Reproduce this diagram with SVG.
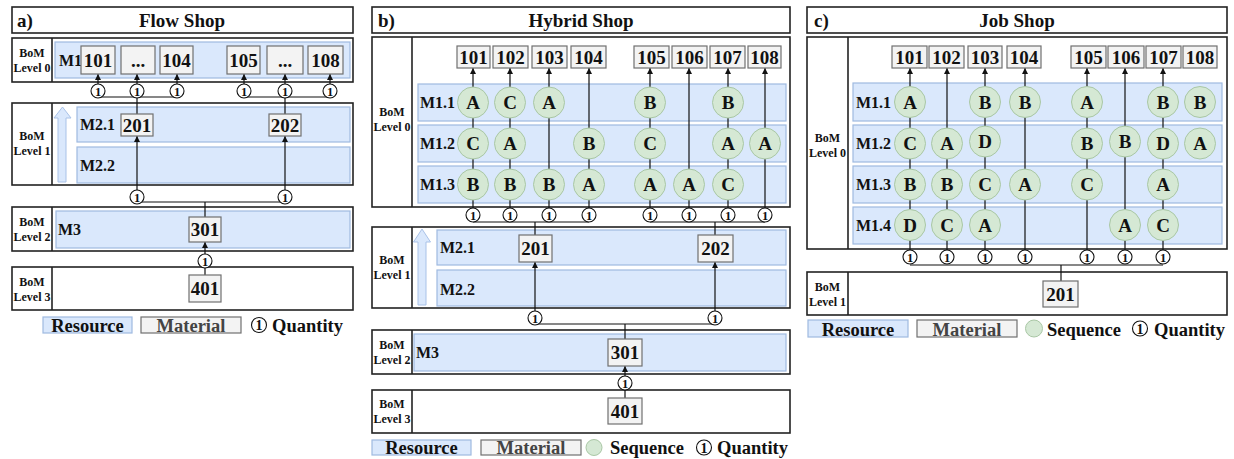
<svg xmlns="http://www.w3.org/2000/svg" width="1234" height="459" viewBox="0 0 1234 459">
<defs>
<style>
text{font-family:'Liberation Serif','Times New Roman',serif;font-weight:bold;fill:#111}
.frame{fill:#fff;stroke:#222;stroke-width:1.6}
.div{stroke:#222;stroke-width:1.6}
.res{fill:#dae8fc;stroke:#9fb9e0;stroke-width:1.2}
.mat{fill:#f3f3f3;stroke:#707070;stroke-width:1.2}
.seq{fill:#d5e8d4;stroke:#a9c7a5;stroke-width:1}
.qty{fill:#fff;stroke:#111;stroke-width:1.1}
.bar{fill:#dae8fc;stroke:#a9c2e8;stroke-width:1}
.title{font-size:19px}
.mt{font-size:19px;text-anchor:middle}
.lvl{font-size:12px;text-anchor:middle}
.rl{font-size:16px}
.st{font-size:19px;text-anchor:middle}
.qt{font-size:12.5px;text-anchor:middle}
.leg{font-size:18.5px}
.edge{stroke:#111;stroke-width:1.2;fill:none}
.arr{stroke:#111;stroke-width:1.2;fill:none;marker-end:url(#ah)}
</style>
<marker id="ah" markerUnits="userSpaceOnUse" markerWidth="7" markerHeight="7" refX="6" refY="3" orient="auto"><path d="M0,0 L6,3 L0,6 z" fill="#111"/></marker>
</defs>
<rect width="1234" height="459" fill="#fff"/>

<!-- ================= Panel A: Flow Shop ================= -->
<g id="a-title"><rect class="frame" x="12" y="7" width="341" height="26"/><text class="title" x="17" y="26.5">a)</text><text class="title" x="182" y="26.5" text-anchor="middle">Flow Shop</text></g>
<g id="a-level0"><rect class="frame" x="12" y="38" width="341" height="44"/><line class="div" x1="52" y1="38" x2="52" y2="82"/><text class="lvl" x="32" y="57">BoM</text><text class="lvl" x="32" y="72">Level 0</text></g>
<g id="a-level1"><rect class="frame" x="12" y="103" width="341" height="82"/><line class="div" x1="52" y1="103" x2="52" y2="185"/><text class="lvl" x="32" y="140">BoM</text><text class="lvl" x="32" y="155">Level 1</text><path class="bar" d="M62.5,107 L71,118 L66,118 L66,182 L58,182 L58,118 L54,118 Z"/></g>
<g id="a-level2"><rect class="frame" x="12" y="207" width="341" height="44"/><line class="div" x1="52" y1="207" x2="52" y2="251"/><text class="lvl" x="32" y="226">BoM</text><text class="lvl" x="32" y="241">Level 2</text></g>
<g id="a-level3"><rect class="frame" x="12" y="267" width="341" height="43"/><line class="div" x1="52" y1="267" x2="52" y2="310"/><text class="lvl" x="32" y="286">BoM</text><text class="lvl" x="32" y="301">Level 3</text></g>
<g id="a-M1"><rect class="res" x="55" y="42" width="295" height="36"/><text class="rl" x="59" y="66">M1</text></g>
<g id="a-M2.1"><rect class="res" x="77" y="107" width="273" height="35"/><text class="rl" x="80" y="130">M2.1</text></g>
<g id="a-M2.2"><rect class="res" x="77" y="147" width="273" height="36"/><text class="rl" x="80" y="171">M2.2</text></g>
<g id="a-M3"><rect class="res" x="56" y="211" width="294" height="37"/><text class="rl" x="58" y="235">M3</text></g>

<g id="a-connectors">
<line class="arr" x1="98" y1="84" x2="98" y2="74"/>
<line class="arr" x1="137" y1="84" x2="137" y2="74"/>
<line class="arr" x1="177" y1="84" x2="177" y2="74"/>
<line class="arr" x1="244" y1="84" x2="244" y2="74"/>
<line class="arr" x1="285" y1="84" x2="285" y2="74"/>
<line class="arr" x1="330" y1="84" x2="330" y2="74"/>
<line class="edge" x1="98" y1="97" x2="177" y2="97"/>
<line class="edge" x1="244" y1="97" x2="330" y2="97"/>
<line class="edge" x1="137" y1="97" x2="137" y2="114"/>
<line class="edge" x1="285" y1="97" x2="285" y2="114"/>
<line class="arr" x1="137" y1="190" x2="137" y2="136"/>
<line class="arr" x1="285" y1="190" x2="285" y2="136"/>
<line class="edge" x1="137" y1="202" x2="285" y2="202"/>
<line class="edge" x1="205" y1="202" x2="205" y2="217"/>
<line class="arr" x1="205" y1="254" x2="205" y2="242"/>
<line class="edge" x1="205" y1="268" x2="205" y2="275"/>
</g>

<g id="a-m101"><rect class="mat" x="81" y="46" width="34" height="28"/><text class="mt" x="98" y="66.5">101</text></g>
<g id="a-mdots1"><rect class="mat" x="121" y="46" width="34" height="28"/><text class="mt" x="138" y="66.5">...</text></g>
<g id="a-m104"><rect class="mat" x="160" y="46" width="33" height="28"/><text class="mt" x="176.5" y="66.5">104</text></g>
<g id="a-m105"><rect class="mat" x="227" y="46" width="33" height="28"/><text class="mt" x="243.5" y="66.5">105</text></g>
<g id="a-mdots2"><rect class="mat" x="267" y="46" width="36" height="28"/><text class="mt" x="285" y="66.5">...</text></g>
<g id="a-m108"><rect class="mat" x="308" y="46" width="35" height="28"/><text class="mt" x="325.5" y="66.5">108</text></g>
<g id="a-m201"><rect class="mat" x="121" y="114" width="32" height="22"/><text class="mt" x="137" y="131.5">201</text></g>
<g id="a-m202"><rect class="mat" x="269" y="114" width="32" height="22"/><text class="mt" x="285" y="131.5">202</text></g>
<g id="a-m301"><rect class="mat" x="189" y="217" width="32" height="25"/><text class="mt" x="205" y="236">301</text></g>
<g id="a-m401"><rect class="mat" x="189" y="275" width="32" height="27"/><text class="mt" x="205" y="295">401</text></g>

<g id="a-q1"><circle class="qty" cx="98" cy="91" r="7"/><text class="qt" x="98" y="95.5">1</text></g>
<g id="a-q2"><circle class="qty" cx="137" cy="91" r="7"/><text class="qt" x="137" y="95.5">1</text></g>
<g id="a-q3"><circle class="qty" cx="177" cy="91" r="7"/><text class="qt" x="177" y="95.5">1</text></g>
<g id="a-q4"><circle class="qty" cx="244" cy="91" r="7"/><text class="qt" x="244" y="95.5">1</text></g>
<g id="a-q5"><circle class="qty" cx="285" cy="91" r="7"/><text class="qt" x="285" y="95.5">1</text></g>
<g id="a-q6"><circle class="qty" cx="330" cy="91" r="7"/><text class="qt" x="330" y="95.5">1</text></g>
<g id="a-q7"><circle class="qty" cx="137" cy="197" r="7"/><text class="qt" x="137" y="201.5">1</text></g>
<g id="a-q8"><circle class="qty" cx="285" cy="197" r="7"/><text class="qt" x="285" y="201.5">1</text></g>
<g id="a-q9"><circle class="qty" cx="205" cy="261" r="7"/><text class="qt" x="205" y="265.5">1</text></g>

<g id="a-legend">
<rect class="res" x="43" y="317" width="89" height="16"/><text class="leg" x="87.5" y="332" text-anchor="middle">Resource</text>
<rect class="mat" x="141" y="317" width="100" height="16"/><text class="leg" x="191" y="332" text-anchor="middle" style="fill:#444">Material</text>
<circle class="qty" cx="259" cy="325" r="7.5"/><text x="259" y="330" style="font-size:14px;text-anchor:middle">1</text>
<text class="leg" x="272" y="332">Quantity</text>
</g>

<!-- ================= Panel B: Hybrid Shop ================= -->
<g id="b-title"><rect class="frame" x="372" y="7" width="418" height="26"/><text class="title" x="378" y="26.5">b)</text><text class="title" x="581" y="26.5" text-anchor="middle">Hybrid Shop</text></g>
<g id="b-level0"><rect class="frame" x="372" y="37" width="418" height="170"/><line class="div" x1="412" y1="37" x2="412" y2="207"/><text class="lvl" x="392" y="116">BoM</text><text class="lvl" x="392" y="131">Level 0</text></g>
<g id="b-level1"><rect class="frame" x="372" y="227" width="418" height="81"/><line class="div" x1="412" y1="227" x2="412" y2="308"/><text class="lvl" x="392" y="264">BoM</text><text class="lvl" x="392" y="279">Level 1</text><path class="bar" d="M422,229 L430.5,242 L426,242 L426,305 L418,305 L418,242 L413.5,242 Z"/></g>
<g id="b-level2"><rect class="frame" x="372" y="330" width="418" height="44"/><line class="div" x1="412" y1="330" x2="412" y2="374"/><text class="lvl" x="392" y="349">BoM</text><text class="lvl" x="392" y="364">Level 2</text></g>
<g id="b-level3"><rect class="frame" x="372" y="390" width="418" height="43"/><line class="div" x1="412" y1="390" x2="412" y2="433"/><text class="lvl" x="392" y="408">BoM</text><text class="lvl" x="392" y="423">Level 3</text></g>
<g id="b-M1.1"><rect class="res" x="418" y="84" width="368" height="37"/><text class="rl" x="420" y="108">M1.1</text></g>
<g id="b-M1.2"><rect class="res" x="418" y="125" width="368" height="37"/><text class="rl" x="420" y="149">M1.2</text></g>
<g id="b-M1.3"><rect class="res" x="418" y="166" width="368" height="37"/><text class="rl" x="420" y="190">M1.3</text></g>
<g id="b-M2.1"><rect class="res" x="437" y="230" width="349" height="35"/><text class="rl" x="440" y="253">M2.1</text></g>
<g id="b-M2.2"><rect class="res" x="437" y="270" width="349" height="36"/><text class="rl" x="440" y="295">M2.2</text></g>
<g id="b-M3"><rect class="res" x="414" y="334" width="372" height="37"/><text class="rl" x="416" y="358">M3</text></g>

<g id="b-connectors">
<line class="arr" x1="473" y1="208" x2="473" y2="68"/>
<line class="arr" x1="510" y1="208" x2="510" y2="68"/>
<line class="arr" x1="549" y1="208" x2="549" y2="68"/>
<line class="arr" x1="589" y1="208" x2="589" y2="68"/>
<line class="arr" x1="650" y1="208" x2="650" y2="68"/>
<line class="arr" x1="689" y1="208" x2="689" y2="68"/>
<line class="arr" x1="728" y1="208" x2="728" y2="68"/>
<line class="arr" x1="765" y1="208" x2="765" y2="68"/>
<line class="edge" x1="473" y1="222" x2="589" y2="222"/>
<line class="edge" x1="650" y1="222" x2="765" y2="222"/>
<line class="edge" x1="535" y1="222" x2="535" y2="235"/>
<line class="edge" x1="715" y1="222" x2="715" y2="235"/>
<line class="arr" x1="535" y1="311" x2="535" y2="262"/>
<line class="arr" x1="715" y1="311" x2="715" y2="262"/>
<line class="edge" x1="535" y1="324" x2="715" y2="324"/>
<line class="edge" x1="625" y1="324" x2="625" y2="339"/>
<line class="arr" x1="625" y1="376" x2="625" y2="366"/>
<line class="edge" x1="625" y1="390" x2="625" y2="398"/>
</g>

<g id="b-s11"><circle class="seq" cx="473" cy="102.5" r="15.5"/><text class="st" x="473" y="109">A</text></g>
<g id="b-s12"><circle class="seq" cx="510" cy="102.5" r="15.5"/><text class="st" x="510" y="109">C</text></g>
<g id="b-s13"><circle class="seq" cx="549" cy="102.5" r="15.5"/><text class="st" x="549" y="109">A</text></g>
<g id="b-s15"><circle class="seq" cx="650" cy="102.5" r="15.5"/><text class="st" x="650" y="109">B</text></g>
<g id="b-s17"><circle class="seq" cx="728" cy="102.5" r="15.5"/><text class="st" x="728" y="109">B</text></g>
<g id="b-s21"><circle class="seq" cx="473" cy="143.5" r="15.5"/><text class="st" x="473" y="150">C</text></g>
<g id="b-s22"><circle class="seq" cx="510" cy="143.5" r="15.5"/><text class="st" x="510" y="150">A</text></g>
<g id="b-s24"><circle class="seq" cx="589" cy="143.5" r="15.5"/><text class="st" x="589" y="150">B</text></g>
<g id="b-s25"><circle class="seq" cx="650" cy="143.5" r="15.5"/><text class="st" x="650" y="150">C</text></g>
<g id="b-s27"><circle class="seq" cx="728" cy="143.5" r="15.5"/><text class="st" x="728" y="150">A</text></g>
<g id="b-s28"><circle class="seq" cx="765" cy="143.5" r="15.5"/><text class="st" x="765" y="150">A</text></g>
<g id="b-s31"><circle class="seq" cx="473" cy="184.5" r="15.5"/><text class="st" x="473" y="191">B</text></g>
<g id="b-s32"><circle class="seq" cx="510" cy="184.5" r="15.5"/><text class="st" x="510" y="191">B</text></g>
<g id="b-s33"><circle class="seq" cx="549" cy="184.5" r="15.5"/><text class="st" x="549" y="191">B</text></g>
<g id="b-s34"><circle class="seq" cx="589" cy="184.5" r="15.5"/><text class="st" x="589" y="191">A</text></g>
<g id="b-s35"><circle class="seq" cx="650" cy="184.5" r="15.5"/><text class="st" x="650" y="191">A</text></g>
<g id="b-s36"><circle class="seq" cx="689" cy="184.5" r="15.5"/><text class="st" x="689" y="191">A</text></g>
<g id="b-s37"><circle class="seq" cx="728" cy="184.5" r="15.5"/><text class="st" x="728" y="191">C</text></g>

<g id="b-m101"><rect class="mat" x="457" y="46" width="33" height="22"/><text class="mt" x="473.5" y="63.5">101</text></g>
<g id="b-m102"><rect class="mat" x="493" y="46" width="35" height="22"/><text class="mt" x="510.5" y="63.5">102</text></g>
<g id="b-m103"><rect class="mat" x="532" y="46" width="35" height="22"/><text class="mt" x="549.5" y="63.5">103</text></g>
<g id="b-m104"><rect class="mat" x="571" y="46" width="35" height="22"/><text class="mt" x="588.5" y="63.5">104</text></g>
<g id="b-m105"><rect class="mat" x="634" y="46" width="35" height="22"/><text class="mt" x="651.5" y="63.5">105</text></g>
<g id="b-m106"><rect class="mat" x="672" y="46" width="35" height="22"/><text class="mt" x="689.5" y="63.5">106</text></g>
<g id="b-m107"><rect class="mat" x="710" y="46" width="35" height="22"/><text class="mt" x="727.5" y="63.5">107</text></g>
<g id="b-m108"><rect class="mat" x="748" y="46" width="33" height="22"/><text class="mt" x="764.5" y="63.5">108</text></g>
<g id="b-m201"><rect class="mat" x="519" y="235" width="33" height="27"/><text class="mt" x="535.5" y="255">201</text></g>
<g id="b-m202"><rect class="mat" x="698" y="235" width="35" height="27"/><text class="mt" x="715.5" y="255">202</text></g>
<g id="b-m301"><rect class="mat" x="608" y="339" width="34" height="27"/><text class="mt" x="625" y="359">301</text></g>
<g id="b-m401"><rect class="mat" x="608" y="398" width="34" height="26"/><text class="mt" x="625" y="417.5">401</text></g>

<g id="b-q1"><circle class="qty" cx="473" cy="215" r="7"/><text class="qt" x="473" y="219.5">1</text></g>
<g id="b-q2"><circle class="qty" cx="510" cy="215" r="7"/><text class="qt" x="510" y="219.5">1</text></g>
<g id="b-q3"><circle class="qty" cx="549" cy="215" r="7"/><text class="qt" x="549" y="219.5">1</text></g>
<g id="b-q4"><circle class="qty" cx="589" cy="215" r="7"/><text class="qt" x="589" y="219.5">1</text></g>
<g id="b-q5"><circle class="qty" cx="650" cy="215" r="7"/><text class="qt" x="650" y="219.5">1</text></g>
<g id="b-q6"><circle class="qty" cx="689" cy="215" r="7"/><text class="qt" x="689" y="219.5">1</text></g>
<g id="b-q7"><circle class="qty" cx="728" cy="215" r="7"/><text class="qt" x="728" y="219.5">1</text></g>
<g id="b-q8"><circle class="qty" cx="765" cy="215" r="7"/><text class="qt" x="765" y="219.5">1</text></g>
<g id="b-q9"><circle class="qty" cx="535" cy="318" r="7"/><text class="qt" x="535" y="322.5">1</text></g>
<g id="b-q10"><circle class="qty" cx="715" cy="318" r="7"/><text class="qt" x="715" y="322.5">1</text></g>
<g id="b-q11"><circle class="qty" cx="625" cy="383" r="7"/><text class="qt" x="625" y="387.5">1</text></g>

<g id="b-legend">
<rect class="res" x="372" y="440" width="99" height="15"/><text class="leg" x="421.5" y="454" text-anchor="middle">Resource</text>
<rect class="mat" x="481" y="440" width="100" height="15"/><text class="leg" x="531" y="454" text-anchor="middle" style="fill:#444">Material</text>
<circle class="seq" cx="594" cy="447.5" r="8"/>
<text class="leg" x="610" y="454">Sequence</text>
<circle class="qty" cx="704" cy="447.5" r="7.5"/><text x="704" y="452.5" style="font-size:14px;text-anchor:middle">1</text>
<text class="leg" x="717" y="454">Quantity</text>
</g>

<!-- ================= Panel C: Job Shop ================= -->
<g id="c-title"><rect class="frame" x="807" y="7" width="420" height="26"/><text class="title" x="814" y="26.5">c)</text><text class="title" x="1017" y="26.5" text-anchor="middle">Job Shop</text></g>
<g id="c-level0"><rect class="frame" x="807" y="37" width="420" height="212"/><line class="div" x1="848" y1="37" x2="848" y2="249"/><text class="lvl" x="827.5" y="142">BoM</text><text class="lvl" x="827.5" y="157">Level 0</text></g>
<g id="c-level1"><rect class="frame" x="807" y="272" width="420" height="43"/><line class="div" x1="848" y1="272" x2="848" y2="315"/><text class="lvl" x="827.5" y="291">BoM</text><text class="lvl" x="827.5" y="306">Level 1</text></g>
<g id="c-M1.1"><rect class="res" x="853" y="83" width="369" height="38"/><text class="rl" x="856" y="108">M1.1</text></g>
<g id="c-M1.2"><rect class="res" x="853" y="125" width="369" height="37"/><text class="rl" x="856" y="149">M1.2</text></g>
<g id="c-M1.3"><rect class="res" x="853" y="166" width="369" height="37"/><text class="rl" x="856" y="190">M1.3</text></g>
<g id="c-M1.4"><rect class="res" x="853" y="207" width="369" height="37"/><text class="rl" x="856" y="231">M1.4</text></g>

<g id="c-connectors">
<line class="arr" x1="910" y1="250" x2="910" y2="68"/>
<line class="arr" x1="947" y1="250" x2="947" y2="68"/>
<line class="arr" x1="985" y1="250" x2="985" y2="68"/>
<line class="arr" x1="1025" y1="250" x2="1025" y2="68"/>
<line class="arr" x1="1087" y1="250" x2="1087" y2="68"/>
<line class="arr" x1="1125" y1="250" x2="1125" y2="68"/>
<line class="arr" x1="1163" y1="250" x2="1163" y2="68"/>
<line class="edge" x1="910" y1="265" x2="1163" y2="265"/>
<line class="edge" x1="1061" y1="265" x2="1061" y2="281"/>
</g>

<g id="c-s11"><circle class="seq" cx="910" cy="102" r="15.5"/><text class="st" x="910" y="108.5">A</text></g>
<g id="c-s13"><circle class="seq" cx="985" cy="102" r="15.5"/><text class="st" x="985" y="108.5">B</text></g>
<g id="c-s14"><circle class="seq" cx="1025" cy="102" r="15.5"/><text class="st" x="1025" y="108.5">B</text></g>
<g id="c-s15"><circle class="seq" cx="1087" cy="102" r="15.5"/><text class="st" x="1087" y="108.5">A</text></g>
<g id="c-s17"><circle class="seq" cx="1163" cy="102" r="15.5"/><text class="st" x="1163" y="108.5">B</text></g>
<g id="c-s18"><circle class="seq" cx="1200" cy="102" r="15.5"/><text class="st" x="1200" y="108.5">B</text></g>
<g id="c-s21"><circle class="seq" cx="910" cy="143.5" r="15.5"/><text class="st" x="910" y="150">C</text></g>
<g id="c-s22"><circle class="seq" cx="947" cy="143.5" r="15.5"/><text class="st" x="947" y="150">A</text></g>
<g id="c-s23"><circle class="seq" cx="985" cy="141.5" r="15.5"/><text class="st" x="985" y="148">D</text></g>
<g id="c-s25"><circle class="seq" cx="1087" cy="143.5" r="15.5"/><text class="st" x="1087" y="150">B</text></g>
<g id="c-s26"><circle class="seq" cx="1125" cy="141.5" r="15.5"/><text class="st" x="1125" y="148">B</text></g>
<g id="c-s27"><circle class="seq" cx="1163" cy="143.5" r="15.5"/><text class="st" x="1163" y="150">D</text></g>
<g id="c-s28"><circle class="seq" cx="1200" cy="143.5" r="15.5"/><text class="st" x="1200" y="150">A</text></g>
<g id="c-s31"><circle class="seq" cx="910" cy="184.5" r="15.5"/><text class="st" x="910" y="191">B</text></g>
<g id="c-s32"><circle class="seq" cx="947" cy="184.5" r="15.5"/><text class="st" x="947" y="191">B</text></g>
<g id="c-s33"><circle class="seq" cx="985" cy="184.5" r="15.5"/><text class="st" x="985" y="191">C</text></g>
<g id="c-s34"><circle class="seq" cx="1025" cy="184.5" r="15.5"/><text class="st" x="1025" y="191">A</text></g>
<g id="c-s35"><circle class="seq" cx="1087" cy="184.5" r="15.5"/><text class="st" x="1087" y="191">C</text></g>
<g id="c-s37"><circle class="seq" cx="1163" cy="184.5" r="15.5"/><text class="st" x="1163" y="191">A</text></g>
<g id="c-s41"><circle class="seq" cx="910" cy="225" r="15.5"/><text class="st" x="910" y="231.5">D</text></g>
<g id="c-s42"><circle class="seq" cx="947" cy="225" r="15.5"/><text class="st" x="947" y="231.5">C</text></g>
<g id="c-s43"><circle class="seq" cx="985" cy="225" r="15.5"/><text class="st" x="985" y="231.5">A</text></g>
<g id="c-s46"><circle class="seq" cx="1125" cy="225" r="15.5"/><text class="st" x="1125" y="231.5">A</text></g>
<g id="c-s47"><circle class="seq" cx="1163" cy="225" r="15.5"/><text class="st" x="1163" y="231.5">C</text></g>

<g id="c-m101"><rect class="mat" x="892" y="46" width="35" height="22"/><text class="mt" x="909.5" y="63.5">101</text></g>
<g id="c-m102"><rect class="mat" x="929" y="46" width="35" height="22"/><text class="mt" x="946.5" y="63.5">102</text></g>
<g id="c-m103"><rect class="mat" x="968" y="46" width="34" height="22"/><text class="mt" x="985" y="63.5">103</text></g>
<g id="c-m104"><rect class="mat" x="1007" y="46" width="34" height="22"/><text class="mt" x="1024" y="63.5">104</text></g>
<g id="c-m105"><rect class="mat" x="1071" y="46" width="35" height="22"/><text class="mt" x="1088.5" y="63.5">105</text></g>
<g id="c-m106"><rect class="mat" x="1108" y="46" width="36" height="22"/><text class="mt" x="1126" y="63.5">106</text></g>
<g id="c-m107"><rect class="mat" x="1146" y="46" width="35" height="22"/><text class="mt" x="1163.5" y="63.5">107</text></g>
<g id="c-m108"><rect class="mat" x="1183" y="46" width="34" height="22"/><text class="mt" x="1200" y="63.5">108</text></g>
<g id="c-m201"><rect class="mat" x="1043" y="281" width="35" height="26"/><text class="mt" x="1060.5" y="300.5">201</text></g>

<g id="c-q1"><circle class="qty" cx="910" cy="257" r="7"/><text class="qt" x="910" y="261.5">1</text></g>
<g id="c-q2"><circle class="qty" cx="947" cy="257" r="7"/><text class="qt" x="947" y="261.5">1</text></g>
<g id="c-q3"><circle class="qty" cx="985" cy="257" r="7"/><text class="qt" x="985" y="261.5">1</text></g>
<g id="c-q4"><circle class="qty" cx="1025" cy="257" r="7"/><text class="qt" x="1025" y="261.5">1</text></g>
<g id="c-q5"><circle class="qty" cx="1087" cy="257" r="7"/><text class="qt" x="1087" y="261.5">1</text></g>
<g id="c-q6"><circle class="qty" cx="1125" cy="257" r="7"/><text class="qt" x="1125" y="261.5">1</text></g>
<g id="c-q7"><circle class="qty" cx="1163" cy="257" r="7"/><text class="qt" x="1163" y="261.5">1</text></g>

<g id="c-legend">
<rect class="res" x="808" y="320" width="100" height="17"/><text class="leg" x="858" y="335.5" text-anchor="middle">Resource</text>
<rect class="mat" x="917" y="320" width="100" height="17"/><text class="leg" x="967" y="335.5" text-anchor="middle" style="fill:#444">Material</text>
<circle class="seq" cx="1034" cy="328.5" r="8.5"/>
<text class="leg" x="1047" y="335.5">Sequence</text>
<circle class="qty" cx="1140" cy="328.5" r="7.5"/><text x="1140" y="333.5" style="font-size:14px;text-anchor:middle">1</text>
<text class="leg" x="1154" y="335.5">Quantity</text>
</g>
</svg>
